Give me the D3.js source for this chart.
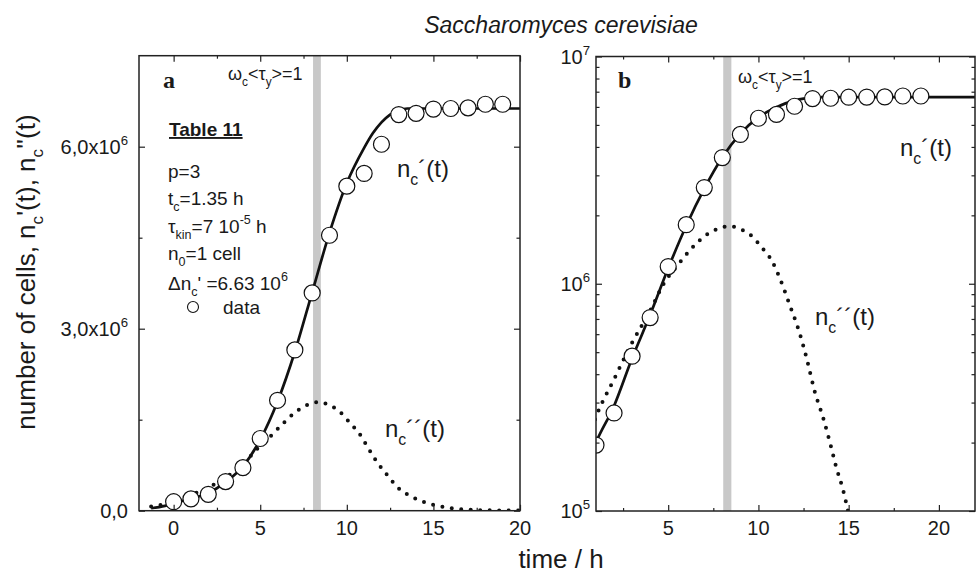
<!DOCTYPE html>
<html lang='en'>
<head>
<meta charset='utf-8'>
<title>Saccharomyces cerevisiae</title>
<script src='https://cdn.jsdelivr.net/npm/d3@7'></script>
<style>
  body { margin: 0; background: #fff; }
  text { font-family: 'Liberation Sans', Arial, sans-serif; fill: #1a1a1a; }
</style>
</head>
<body>
<script>
// measured cells (open circles), time in h
var hours = [0,1,2,3,4,5,6,7,8,9,10,11,12,13,14,15,16,17,18,19];
var cells = [0.148e6,0.195e6,0.27e6,0.48e6,0.71e6,1.19e6,1.82e6,2.65e6,3.59e6,4.54e6,
             5.35e6,5.56e6,6.04e6,6.53e6,6.55e6,6.62e6,6.63e6,6.64e6,6.70e6,6.70e6];

// fitted n_c'(t), solid line
var fitT = [-1.3,-0.5,0,1,2,3,4,5,6,7,8,9,10,11,11.5,12,12.5,13,13.5,22];
var fitN = [0.04e6,0.08e6,0.12e6,0.2e6,0.29e6,0.47e6,0.73e6,1.17e6,1.8e6,2.62e6,3.6e6,4.58e6,
            5.4e6,5.98e6,6.22e6,6.4e6,6.53e6,6.6e6,6.63e6,6.63e6];

// n_c''(t), dotted line
var derT = [-1.3,-0.5,0,1,2,3,4,4.75,5.5,6.4,7.1,7.7,8.4,9.0,9.6,10.2,10.75,11.2,11.7,12.3,12.7,
            13.1,13.6,14.0,14.3,14.7,15,15.9,17,18,20];
var derN = [0.07e6,0.11e6,0.15e6,0.26e6,0.38e6,0.55e6,0.76e6,1.0e6,1.2e6,1.46e6,1.64e6,1.74e6,1.79e6,
            1.74e6,1.63e6,1.44e6,1.26e6,1.05e6,0.82e6,0.6e6,0.46e6,0.34e6,0.255e6,0.195e6,0.157e6,
            0.123e6,0.097e6,0.045e6,0.018e6,0.007e6,0.002e6];

// omega_c <tau_y> = 1 band
var band = [8.05, 8.5];

var xTicksA = [0,5,10,15,20], xMinorA = [2.5,7.5,12.5,17.5];
var yTicksA = [0,3e6,6e6], yMinorA = [1.5e6,4.5e6];
var yLabelsA = [['0,0',''],['3,0x10','6'],['6,0x10','6']];
var xTicksB = [5,10,15,20], xMinorB = [2.5,7.5,12.5,17.5];
var yTicksB = [1e5,1e6,1e7];
var yLabelsB = [['10','5'],['10','6'],['10','7']];

var W = 976, H = 573;
var svg = d3.select('body').append('svg').attr('width', W).attr('height', H);
var defs = svg.append('defs');

// text with sub/superscripts: parts = [[str, 'n'|'sub'|'sup'], ...]
function rich(g, x, y, parts, size, anchor) {
  var t = g.append('text').attr('x', x).attr('y', y).attr('font-size', size)
           .attr('text-anchor', anchor || 'start');
  var shift = 0;
  parts.forEach(function(p) {
    var target = p[1] == 'sub' ? size*0.32 : (p[1] == 'sup' ? -size*0.45 : 0);
    var s = t.append('tspan').text(p[0]).attr('dy', target - shift);
    if (p[1] != 'n') s.attr('font-size', size*0.66);
    shift = target;
  });
  return t;
}

function panel(id, x, y, opt) {
  var x0 = x.range()[0], x1 = x.range()[1], y0 = y.range()[0], y1 = y.range()[1];
  var g = svg.append('g');
  defs.append('clipPath').attr('id', 'clip'+id).append('rect')
      .attr('x', x0).attr('y', y1).attr('width', x1-x0).attr('height', y0-y1);
  var plot = g.append('g').attr('clip-path', 'url(#clip'+id+')');

  plot.append('rect').attr('x', x(band[0])).attr('y', y1)
      .attr('width', x(band[1])-x(band[0])).attr('height', y0-y1).attr('fill', '#c8c8c8');

  var line = d3.line().x(function(d){return x(d[0]);}).y(function(d){return y(d[1]);})
               .curve(d3.curveMonotoneX);
  plot.append('path').attr('d', line(d3.zip(derT, derN))).attr('fill', 'none')
      .attr('stroke', '#111').attr('stroke-width', 4).attr('stroke-linecap', 'round')
      .attr('stroke-dasharray', '0 9.5');
  plot.append('path').attr('d', line(d3.zip(fitT, fitN))).attr('fill', 'none')
      .attr('stroke', '#111').attr('stroke-width', 2.7);
  plot.selectAll('circle').data(d3.zip(hours, cells)).enter().append('circle')
      .attr('cx', function(d){return x(d[0]);}).attr('cy', function(d){return y(d[1]);})
      .attr('r', 8).attr('fill', '#fff').attr('stroke', '#111').attr('stroke-width', 1.2);

  // ticks, inward on all four sides
  function ticks(axis, vals, size, tr) {
    var a = g.append('g').attr('transform', tr)
             .call(axis.tickValues(vals).tickSize(size).tickFormat(''));
    a.select('.domain').remove();
    a.selectAll('line').attr('stroke', '#222').attr('stroke-width', 1.2);
  }
  ticks(d3.axisBottom(x), opt.xMajor, -6, 'translate(0,'+y0+')');
  ticks(d3.axisBottom(x), opt.xMinor, -3, 'translate(0,'+y0+')');
  ticks(d3.axisTop(x), opt.xMajor, -6, 'translate(0,'+y1+')');
  ticks(d3.axisTop(x), opt.xMinor, -3, 'translate(0,'+y1+')');
  ticks(d3.axisLeft(y), opt.yMajor, -6, 'translate('+x0+',0)');
  ticks(d3.axisLeft(y), opt.yMinor, -3.5, 'translate('+x0+',0)');
  ticks(d3.axisRight(y), opt.yMajor, -6, 'translate('+x1+',0)');
  ticks(d3.axisRight(y), opt.yMinor, -3.5, 'translate('+x1+',0)');

  g.append('rect').attr('x', x0).attr('y', y1).attr('width', x1-x0).attr('height', y0-y1)
   .attr('fill', 'none').attr('stroke', '#222').attr('stroke-width', 1.5);

  opt.xMajor.forEach(function(v) {
    g.append('text').attr('x', x(v)).attr('y', 535).attr('font-size', 20)
     .attr('text-anchor', 'middle').text(v);
  });
  opt.yMajor.forEach(function(v, i) {
    rich(g, x0 - opt.labelGap, y(v) + 7, [[opt.yLabels[i][0], 'n'], [opt.yLabels[i][1], 'sup']], 20, 'end');
  });
  return g;
}

var xA = d3.scaleLinear().domain([-2, 20]).range([139, 520]);
var yA = d3.scaleLinear().domain([0, 7.5e6]).range([510.7, 55.7]);
var gA = panel('a', xA, yA, {xMajor: xTicksA, xMinor: xMinorA, yMajor: yTicksA, yMinor: yMinorA,
                             yLabels: yLabelsA, labelGap: 11});

var xB = d3.scaleLinear().domain([1, 22]).range([596, 975]);
var yB = d3.scaleLog().domain([1e5, 1e7]).range([511, 56.5]);
var minorB = yB.ticks().filter(function(v){ return yTicksB.indexOf(v) < 0; });
var gB = panel('b', xB, yB, {xMajor: xTicksB, xMinor: xMinorB, yMajor: yTicksB, yMinor: minorB,
                             yLabels: yLabelsB, labelGap: 6});

// panel letters and annotations
svg.append('text').attr('x', 163).attr('y', 88).attr('font-size', 24).attr('font-weight', 'bold')
   .style('font-family', "'Liberation Serif', 'Times New Roman', serif").text('a');
svg.append('text').attr('x', 618).attr('y', 88).attr('font-size', 24).attr('font-weight', 'bold')
   .style('font-family', "'Liberation Serif', 'Times New Roman', serif").text('b');

var omega = [['ω','n'],['c','sub'],['<τ','n'],['y','sub'],['>=1','n']];
rich(svg, 228, 80, omega, 18);
rich(svg, 738, 83, omega, 18);

svg.append('text').attr('x', 169).attr('y', 136).attr('font-size', 19).attr('font-weight', 'bold')
   .style('text-decoration', 'underline').text('Table 11');
rich(svg, 168, 178, [['p=3','n']], 19);
rich(svg, 168, 205, [['t','n'],['c','sub'],['=1.35 h','n']], 19);
rich(svg, 168, 233, [['τ','n'],['kin','sub'],['=7 10','n'],['-5','sup'],[' h','n']], 19);
rich(svg, 168, 260, [['n','n'],['0','sub'],['=1 cell','n']], 19);
rich(svg, 168, 290, [['Δn','n'],['c','sub'],["' =6.63 10",'n'],['6','sup']], 19);
svg.append('circle').attr('cx', 193).attr('cy', 307).attr('r', 5.5)
   .attr('fill', '#fff').attr('stroke', '#111').attr('stroke-width', 1.1);
svg.append('text').attr('x', 223).attr('y', 314).attr('font-size', 19).text('data');

rich(svg, 397, 177, [['n','n'],['c','sub'],['´(t)','n']], 24);
rich(svg, 385, 437, [['n','n'],['c','sub'],['´´(t)','n']], 24);
rich(svg, 900, 156, [['n','n'],['c','sub'],['´(t)','n']], 24);
rich(svg, 815, 325, [['n','n'],['c','sub'],['´´(t)','n']], 24);

// titles
svg.append('text').attr('x', 561).attr('y', 33).attr('font-size', 23).attr('font-style', 'italic')
   .attr('text-anchor', 'middle').text('Saccharomyces cerevisiae');
svg.append('text').attr('x', 561).attr('y', 568).attr('font-size', 26)
   .attr('text-anchor', 'middle').text('time / h');
var yl = rich(svg, 0, 0, [['number of cells, n','n'],['c','sub'],["'(t), n",'n'],['c','sub'],["''(t)",'n']], 26, 'middle');
yl.attr('transform', 'translate(35,272) rotate(-90)');
</script>
</body>
</html>
